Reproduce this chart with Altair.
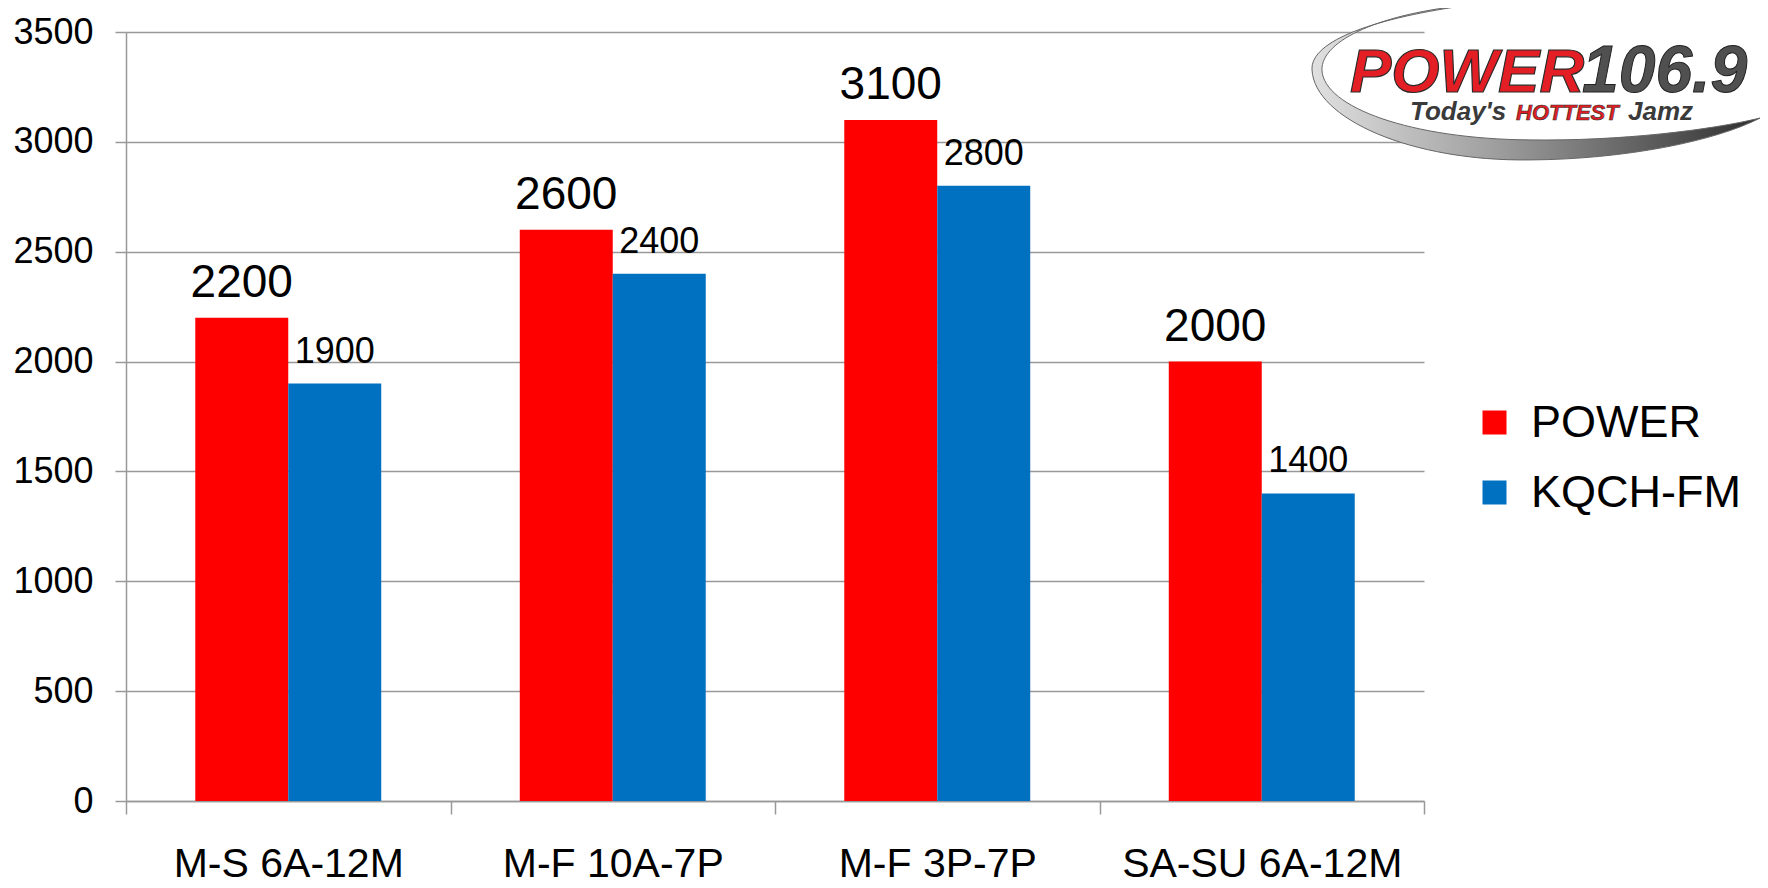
import altair as alt
import pandas as pd

# ---------------- data ----------------
categories = ["M-S 6A-12M", "M-F 10A-7P", "M-F 3P-7P", "SA-SU 6A-12M"]
series = ["POWER", "KQCH-FM"]
power_values = [2200, 2600, 3100, 2000]
kqch_values = [1900, 2400, 2800, 1400]
y_ticks = [0, 500, 1000, 1500, 2000, 2500, 3000, 3500]

rows = []
for c, p, k in zip(categories, power_values, kqch_values):
    rows.append({"slot": c, "station": "POWER", "listeners": p})
    rows.append({"slot": c, "station": "KQCH-FM", "listeners": k})
df = pd.DataFrame(rows)

# ---------------- style ----------------
FONT = "Liberation Sans"
COLORS = ["#FF0000", "#0070C0"]
GRAY = "#999999"
W, H = 1298, 769

base = alt.Chart(df).encode(
    x=alt.X(
        "slot:N", sort=categories, title=None,
        scale=alt.Scale(paddingInner=0, paddingOuter=0),
        axis=alt.Axis(
            labelAngle=0, labelFontSize=41, labelFont=FONT, labelColor="black",
            labelPadding=30, labelLimit=500, tickBand="extent", tickSize=13,
            tickColor=GRAY, tickWidth=1.5, domainColor=GRAY, domainWidth=1.5,
            grid=False,
        ),
    ),
    xOffset=alt.XOffset(
        "station:N", sort=series,
        scale=alt.Scale(domain=series, paddingOuter=0.745, paddingInner=0),
    ),
    y=alt.Y(
        "listeners:Q", title=None,
        scale=alt.Scale(domain=[0, 3500], nice=False),
        axis=alt.Axis(
            values=y_ticks, format="d", labelFontSize=36, labelFont=FONT,
            labelColor="black", labelPadding=22, tickSize=11, tickColor=GRAY,
            tickWidth=1.5, grid=True, gridColor=GRAY, gridWidth=1.5,
            domainColor=GRAY, domainWidth=1.5,
        ),
    ),
)

bars = base.mark_bar().encode(
    color=alt.Color(
        "station:N", sort=series,
        scale=alt.Scale(domain=series, range=COLORS),
        legend=alt.Legend(
            title=None, orient="none", legendX=1346, legendY=368,
            labelFontSize=45, labelFont=FONT, labelColor="black",
            symbolType="square", symbolSize=576, symbolStrokeWidth=0,
            labelOffset=14, rowPadding=24, padding=0, labelLimit=400,
        ),
    )
)

text_power = base.transform_filter(alt.datum.station == "POWER").mark_text(
    fontSize=46, font=FONT, baseline="alphabetic", dy=-21, color="black"
).encode(text=alt.Text("listeners:Q", format="d"))

text_kqch = base.transform_filter(alt.datum.station == "KQCH-FM").mark_text(
    fontSize=36, font=FONT, baseline="alphabetic", dy=-21, color="black"
).encode(text=alt.Text("listeners:Q", format="d"))

# ---------------- logo (decoration) ----------------
swoosh_path = (
    "M -0.289 -0.356 C -0.70 -0.30 -1.0 -0.20 -0.991 -0.067 "
    "C -0.98 0.15 -0.55 0.34 -0.022 0.333 "
    "C 0.40 0.33 0.80 0.25 1.0 0.147 "
    "C 0.78 0.20 0.38 0.25 -0.022 0.244 "
    "C -0.55 0.24 -0.94 0.10 -0.947 -0.067 "
    "C -0.95 -0.20 -0.68 -0.32 -0.289 -0.356 Z"
)
grad = alt.LinearGradient(
    gradient="linear", x1=0, x2=1, y1=0, y2=0,
    stops=[alt.GradientStop(color="#e0e0e0", offset=0),
           alt.GradientStop(color="#a0a0a0", offset=0.4),
           alt.GradientStop(color="#2e2e2e", offset=1)],
)
one = pd.DataFrame({"k": [0]})
swoosh = alt.Chart(one).mark_point(
    shape=swoosh_path, size=450 * 450, filled=True, fill=grad, opacity=1,
    stroke="#666666", strokeWidth=1,
).encode(x=alt.value(1409), y=alt.value(53))

logo_power = alt.Chart(one).mark_text(
    text="POWER", font=FONT, fontSize=62, fontWeight="bold", fontStyle="italic",
    align="left", baseline="alphabetic", fill="#e31e24", stroke="#2a2a2a", strokeWidth=1.2,
).encode(x=alt.value(1224), y=alt.value(60))

logo_freq = alt.Chart(one).mark_text(
    text="106.9", font=FONT, fontSize=66, fontWeight="bold", fontStyle="italic",
    align="left", baseline="alphabetic", fill="#505050", stroke="#222222", strokeWidth=1,
).encode(x=alt.value(1456), y=alt.value(60))

logo_today = alt.Chart(one).mark_text(
    text="Today's", font=FONT, fontSize=26, fontWeight="bold", fontStyle="italic",
    align="left", baseline="alphabetic", fill="#3a3a3a",
).encode(x=alt.value(1284), y=alt.value(88))

logo_hot = alt.Chart(one).mark_text(
    text="HOTTEST", font=FONT, fontSize=22, fontWeight="bold", fontStyle="italic",
    align="left", baseline="alphabetic", fill="#e31e24", stroke="#2a2a2a", strokeWidth=0.6,
).encode(x=alt.value(1390), y=alt.value(88))

logo_jamz = alt.Chart(one).mark_text(
    text="Jamz", font=FONT, fontSize=26, fontWeight="bold", fontStyle="italic",
    align="left", baseline="alphabetic", fill="#3a3a3a",
).encode(x=alt.value(1502), y=alt.value(88))

chart = alt.layer(
    bars, text_power, text_kqch, swoosh, logo_power, logo_freq,
    logo_today, logo_hot, logo_jamz,
).properties(
    width=W, height=H,
    padding={"left": 118, "top": 24, "right": 336, "bottom": 86},
    autosize=alt.AutoSizeParams(type="none"),
).configure_view(stroke=None)

chart.save("out.html", embed_options={"renderer": "svg", "actions": False})
